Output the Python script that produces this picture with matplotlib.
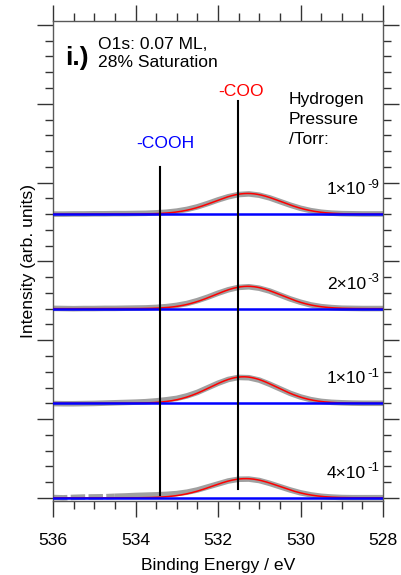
import numpy as np
import matplotlib
matplotlib.use("Agg")
import matplotlib.pyplot as plt
from matplotlib.ticker import MultipleLocator

plt.rcParams['font.family'] = 'Liberation Sans'

# O1s spectra, binding energy grid (eV)
energy = [536.0, 535.75, 535.5, 535.25, 535.0, 534.75, 534.5, 534.25, 534.0, 533.75,
          533.5, 533.25, 533.0, 532.75, 532.5, 532.25, 532.0, 531.75, 531.5, 531.25,
          531.0, 530.75, 530.5, 530.25, 530.0, 529.75, 529.5, 529.25, 529.0, 528.75,
          528.5, 528.25, 528.0]

# background-subtracted intensity for each hydrogen pressure
int_1e9 = [0.00, 0.00, 0.01, 0.01, 0.02, 0.02, 0.03, 0.03, 0.04, 0.05,
           0.08, 0.12, 0.19, 0.30, 0.46, 0.67, 0.90, 1.10, 1.24, 1.28,
           1.20, 1.03, 0.80, 0.57, 0.37, 0.22, 0.12, 0.06, 0.03, 0.02,
           0.01, 0.01, 0.01]
int_2e3 = [0.02, 0.01, 0.00, 0.01, 0.01, 0.02, 0.02, 0.03, 0.04, 0.05,
           0.08, 0.13, 0.21, 0.33, 0.51, 0.73, 0.98, 1.20, 1.35, 1.39,
           1.30, 1.12, 0.87, 0.62, 0.41, 0.24, 0.13, 0.07, 0.03, 0.02,
           0.01, 0.01, 0.01]
int_1e1 = [-0.02, -0.03, -0.03, -0.02, -0.01, 0.01, 0.03, 0.05, 0.07, 0.10,
           0.15, 0.22, 0.31, 0.47, 0.69, 0.98, 1.27, 1.51, 1.64, 1.62,
           1.47, 1.21, 0.92, 0.63, 0.40, 0.23, 0.12, 0.06, 0.03, 0.01,
           0.00, 0.00, 0.00]
int_4e1 = [0.02, 0.00, 0.03, 0.05, 0.06, 0.07, 0.10, 0.12, 0.15, 0.17,
           0.19, 0.22, 0.27, 0.36, 0.50, 0.69, 0.88, 1.07, 1.18, 1.19,
           1.10, 0.92, 0.71, 0.50, 0.32, 0.19, 0.10, 0.05, 0.02, 0.01,
           0.01, 0.01, 0.01]
spectra = [int_1e9, int_2e3, int_1e1, int_4e1]

# gaussian fit of the -COO component: centre (eV), height, fwhm (eV)
fit_center = [531.28, 531.28, 531.38, 531.33]
fit_height = [1.31, 1.42, 1.68, 1.22]
fit_fwhm = [1.90, 1.90, 1.90, 1.90]

offsets = [18, 12, 6, 0]
pressure_mant = ['1×10', '2×10', '1×10', '4×10']
pressure_exp = ['-9', '-3', '-1', '-1']

# reference binding energies
e_cooh = 533.41
e_coo = 531.52

fig = plt.figure(figsize=(4.01, 5.75), dpi=100)
ax = fig.add_axes([53 / 401, 1 - 501 / 575, 330 / 401, 480 / 575])

e_fine = np.linspace(536, 528, 400)
for i, (spec, off, c, h, w) in enumerate(zip(spectra, offsets, fit_center, fit_height, fit_fwhm)):
    y = np.array(spec) + off
    if i == 3:
        # sparse points at the high energy end of the last scan
        ax.plot(energy[:7], y[:7], color='#a0a0a0', lw=4.0, dashes=(2.6, 0.6), zorder=2)
        ax.plot(energy[6:], y[6:], color='#a0a0a0', lw=4.0, solid_capstyle='butt', zorder=2)
    else:
        ax.plot(energy, y, color='#a0a0a0', lw=4.0, solid_capstyle='butt', zorder=2)
    sig = w / 2.3548
    ax.plot(e_fine, off + h * np.exp(-(e_fine - c) ** 2 / (2 * sig ** 2)), color='red', lw=1.1, zorder=3)
    ax.plot([536, 528], [off, off], color='#0000ff', lw=1.8, zorder=4)

ax.plot([e_cooh, e_cooh], [0.15, 21.0], color='black', lw=1.5, zorder=5)
ax.plot([e_coo, e_coo], [0.55, 25.2], color='black', lw=1.5, zorder=5)

ax.set_xlim(536, 528)
ax.set_ylim(-0.2, 30.25)

ax.xaxis.set_major_locator(MultipleLocator(2))
ax.xaxis.set_minor_locator(MultipleLocator(0.5))
ax.yaxis.set_major_locator(MultipleLocator(5))
ax.yaxis.set_minor_locator(MultipleLocator(1))
ax.tick_params(which='both', direction='out', top=True, right=True, color='0.2', width=1.0)
ax.tick_params(which='major', length=11.5, labelsize=12.6, pad=11.5)
ax.tick_params(which='minor', length=5.8)
ax.tick_params(axis='y', labelleft=False)
for s in ax.spines.values():
    s.set_color('0.35')
    s.set_linewidth(1.0)

ax.set_xlabel('Binding Energy / eV', fontsize=12.6, labelpad=7.5)
ax.set_ylabel('Intensity (arb. units)', fontsize=12.6, labelpad=1)

for off, m, ex in zip(offsets, pressure_mant, pressure_exp):
    ax.text(528.41, off + 1.27, m, fontsize=12.5, ha='right', va='baseline')
    ax.text(528.39, off + 1.68, ex, fontsize=9.5, ha='left', va='baseline')

ax.text(533.28, 22.5, '-COOH', color='#0000ff', fontsize=12.6, ha='center', va='center')
ax.text(531.43, 25.8, '-COO', color='red', fontsize=12.6, ha='center', va='center')
ax.text(530.28, 25.75, 'Hydrogen\nPressure\n/Torr:', fontsize=12.6, ha='left', va='top', linespacing=1.4)
ax.text(534.91, 29.25, 'O1s: 0.07 ML,\n28% Saturation', fontsize=12.6, ha='left', va='top', linespacing=1.3)
ax.text(535.71, 27.9, 'i.)', fontsize=19, fontweight='bold', ha='left', va='center')

plt.savefig('out.png', dpi=100)
